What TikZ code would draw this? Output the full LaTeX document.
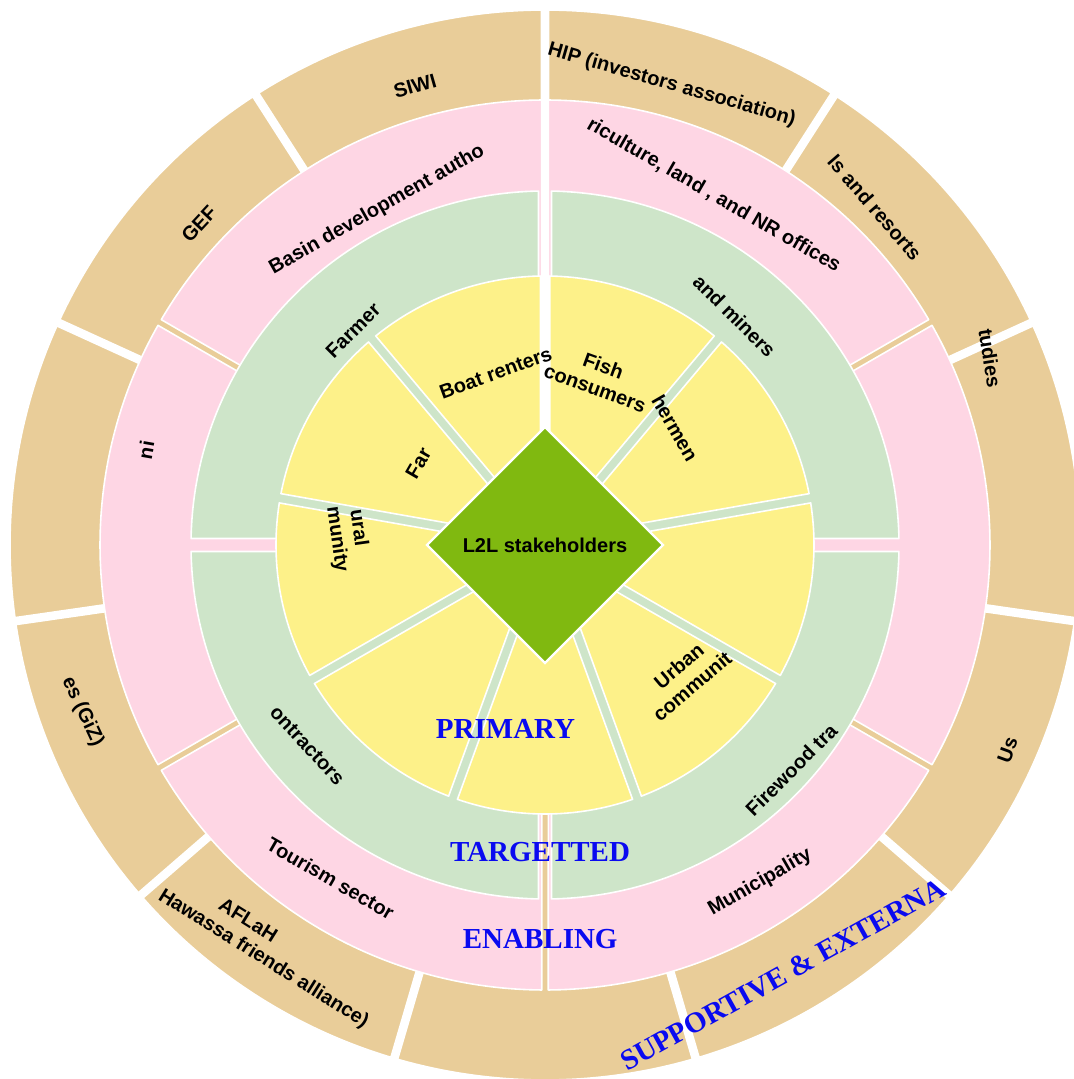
\documentclass[tikz,border=0pt]{standalone}
\usepackage{fontspec}
\setmainfont{Liberation Sans}
\newfontfamily\bigserif{Liberation Serif}
\definecolor{tanc}{RGB}{233,205,153}
\definecolor{pinkc}{RGB}{254,214,228}
\definecolor{greenc}{RGB}{206,229,201}
\definecolor{yellowc}{RGB}{253,241,137}
\definecolor{diamc}{RGB}{128,185,16}
\definecolor{bluec}{RGB}{10,10,240}
\newcommand{\drawsect}[5]{%
  \pgfmathsetmacro{\sgA}{#2+asin(#5/#4)}%
  \pgfmathsetmacro{\sgB}{#3-asin(#5/#4)}%
  \pgfmathsetmacro{\sgM}{(#2+#3)/2}%
  \pgfmathsetmacro{\sgD}{#5/sin((#3-#2)/2)}%
  \path[#1] (\sgM:\sgD) -- (\sgA:#4) arc[start angle=\sgA, end angle=\sgB, radius=#4] -- cycle;%
}
\begin{document}
\begin{tikzpicture}[x=0.5pt, y=0.5pt,
  wedgebox/.style={draw=white, line width=0.8pt, line join=round},
  lab/.style={font=\bfseries, inner sep=0pt},
  big/.style={font=\bigserif\bfseries\fontsize{14.5}{17}\selectfont, text=bluec, inner sep=0pt}]
\useasboundingbox (-545,-534) rectangle (528,545);
% outer ring: supportive & external
\foreach \k in {0,...,10} {
  \pgfmathsetmacro{\tgA}{90-32.72727*(\k+1)}
  \pgfmathsetmacro{\tgB}{90-32.72727*\k}
  \drawsect{wedgebox, fill=tanc}{\tgA}{\tgB}{535}{3.5}
}
% enabling ring
\foreach \a in {30,90,150,210,270,330} {
  \drawsect{wedgebox, fill=pinkc}{\a}{\a+60}{445}{3.3}
}
% targetted ring
\foreach \a in {0,90,180,270} {
  \drawsect{wedgebox, fill=greenc}{\a}{\a+90}{354}{6.5}
}
% primary ring
\foreach \a in {10,50,90,130,170,210,250,290,330} {
  \drawsect{wedgebox, fill=yellowc}{\a}{\a+40}{269}{4.7}
}
% centre
\path[fill=diamc, draw=white, line width=1.2pt, line join=miter] (0,118) -- (118,0) -- (0,-118) -- (-118,0) -- cycle;
\node[lab] (l2l) at (0,0) {L2L stakeholders};

% outer ring labels
\node[lab, rotate=16] (siwi) at (-130,459) {SIWI};
\node[lab, rotate=47] (gef) at (-346,321) {GEF};
\node[lab, rotate=-65] (giz) at (-462.5,-166.7) {es (GiZ)};
\node[lab, rotate=-32] (aflah) at (-296.7,-375) {AFLaH};
\node[lab, rotate=-32] (hawassa) at (-281.7,-414.2) {Hawassa friends alliance)};
\node[lab, rotate=70] (us) at (462.5,-205) {Us};
\node[lab, rotate=-81] (studies) at (445,187) {tudies};
\node[lab, rotate=-49] (hotels) at (329.8,337.5) {ls and resorts};
\node[lab, rotate=-16] (hip) at (126.6,459.8) {HIP (investors association)};

% enabling labels
\node[lab, rotate=29.5] (basin) at (-167.9,335) {Basin development autho};
\node[lab, rotate=80] (ni) at (-399,95) {ni};
\node[lab, rotate=-30] (tourism) at (-214.4,-333.2) {Tourism sector};
\node[lab, rotate=30] (munic) at (215,-337.5) {Municipality};
\node[lab, rotate=-30] (agri) at (168.8,349.6) {riculture, land , and NR offices};

% targetted labels
\node[lab, rotate=45] (farmer) at (-192,214.4) {Farmer};
\node[lab, rotate=-45] (miners) at (189.5,229) {and miners};
\node[lab, rotate=45] (firewood) at (246.3,-224.7) {Firewood tra};
\node[lab, rotate=-47] (contr) at (-237.7,-200.6) {ontractors};

% primary labels
\node[lab, rotate=20] (boat) at (-49.3,172) {Boat renters};
\node[lab, rotate=60] (farm) at (-126.7,81.7) {Far};
\node[lab, rotate=-82] (rural) at (-185,17.2) {ural};
\node[lab, rotate=-82] (munity) at (-208.2,5.5) {munity};
\node[lab, rotate=-20, align=center] (fish) at (54.3,168) {Fish\\consumers};
\node[lab, rotate=-60] (fishermen) at (130,117) {hermen};
\node[lab, rotate=40] (urban) at (133.8,-121) {Urban};
\node[lab, rotate=40] (commun) at (147,-141) {communit};

% level captions
\node[big] (primary) at (-39.5,-184) {PRIMARY};
\node[big] (targetted) at (-5,-307.4) {TARGETTED};
\node[big] (enabling) at (-4.8,-394.3) {ENABLING};
\node[big, rotate=29, anchor=base west] (supp) at (81.7,-527) {SUPPORTIVE \& EXTERNA};
\end{tikzpicture}
\end{document}
